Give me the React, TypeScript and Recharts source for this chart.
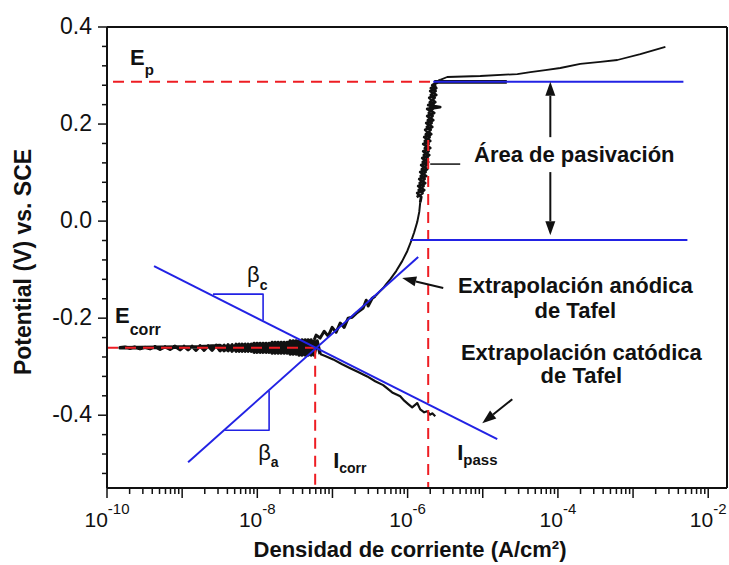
import React from 'react';
import { ComposedChart, Line, XAxis, YAxis, ReferenceLine, ReferenceDot, Label } from 'recharts';

const FONT = 'Arial, "Liberation Sans", Helvetica, sans-serif';
const BLUE = '#2222e4';
const RED = '#ee1d23';
const INK = '#111111';

// axis limits: current density (A/cm2, log axis) and potential (V vs SCE)
const X_MIN = 1e-10;
const X_MAX = Math.pow(10, -1.75);
const Y_MIN = -0.55;
const Y_MAX = 0.4;

const decades = [-10, -9, -8, -7, -6, -5, -4, -3, -2];
const minorSteps = [2, 3, 4, 5, 6, 7, 8, 9];
const labelledDecades = [-10, -8, -6, -4, -2];
const yTicks = [
  0.4, 0.36, 0.32, 0.28, 0.24, 0.2, 0.16, 0.12, 0.08, 0.04, 0, -0.04, -0.08, -0.12,
  -0.16, -0.2, -0.24, -0.28, -0.32, -0.36, -0.4, -0.44, -0.48, -0.52,
];
const yLabels = [0.4, 0.2, 0, -0.2, -0.4];

// measured curve, pairs of [log10(i), E]
const cathodicBranch: [number, number][] = [
  [-5.632, -0.402], [-5.672, -0.396], [-5.699, -0.399], [-5.739, -0.392],
  [-5.779, -0.394], [-5.832, -0.388], [-5.872, -0.375], [-5.939, -0.384],
  [-5.992, -0.377], [-6.045, -0.370], [-6.098, -0.361], [-6.205, -0.353],
  [-6.325, -0.338], [-6.431, -0.330], [-6.538, -0.320], [-6.658, -0.311],
  [-6.764, -0.303], [-6.871, -0.295], [-6.991, -0.285], [-7.097, -0.278],
  [-7.164, -0.274],
];

// scan through E_corr: leftwards, then back to the anodic side
const corrosionNoise: [number, number][] = [
  [-7.164, -0.274], [-7.204, -0.247], [-7.244, -0.276], [-7.284, -0.245],
  [-7.323, -0.276], [-7.363, -0.245], [-7.403, -0.276], [-7.443, -0.247],
  [-7.483, -0.274], [-7.523, -0.247], [-7.563, -0.274], [-7.603, -0.250],
  [-7.643, -0.272], [-7.683, -0.250], [-7.723, -0.272], [-7.763, -0.250],
  [-7.803, -0.272], [-7.843, -0.252], [-7.883, -0.270], [-7.923, -0.252],
  [-7.963, -0.270], [-8.003, -0.252], [-8.043, -0.270], [-8.082, -0.254],
  [-8.122, -0.268], [-8.162, -0.254], [-8.202, -0.268], [-8.242, -0.254],
  [-8.282, -0.268], [-8.336, -0.255], [-8.389, -0.267], [-8.442, -0.256],
  [-8.495, -0.267], [-8.549, -0.256], [-8.602, -0.266], [-8.655, -0.257],
  [-8.708, -0.266], [-8.762, -0.257], [-8.815, -0.266], [-8.868, -0.258],
  [-8.921, -0.265], [-8.975, -0.258], [-9.028, -0.265], [-9.095, -0.258],
  [-9.161, -0.264], [-9.228, -0.259], [-9.294, -0.264], [-9.361, -0.259],
  [-9.427, -0.263], [-9.494, -0.260], [-9.561, -0.263], [-9.627, -0.260],
  [-9.694, -0.262], [-9.760, -0.260], [-9.827, -0.261],
  [-8.762, -0.259], [-8.495, -0.256], [-8.442, -0.267], [-8.389, -0.255],
  [-8.336, -0.268], [-8.282, -0.254], [-8.242, -0.268], [-8.202, -0.254],
  [-8.162, -0.268], [-8.122, -0.254], [-8.082, -0.268], [-8.043, -0.252],
  [-8.003, -0.270], [-7.963, -0.252], [-7.923, -0.270], [-7.883, -0.252],
  [-7.843, -0.270], [-7.803, -0.250], [-7.763, -0.272], [-7.723, -0.250],
  [-7.683, -0.272], [-7.643, -0.250], [-7.603, -0.272], [-7.563, -0.247],
  [-7.523, -0.274], [-7.483, -0.247], [-7.443, -0.276], [-7.403, -0.245],
  [-7.363, -0.276], [-7.323, -0.245], [-7.284, -0.276], [-7.244, -0.245],
];

const anodicNoise: [number, number][] = [
  [-7.244, -0.245], [-7.217, -0.235], [-7.164, -0.241], [-7.110, -0.227],
  [-7.057, -0.237], [-7.004, -0.219], [-6.951, -0.229], [-6.897, -0.210],
  [-6.844, -0.219], [-6.791, -0.200], [-6.738, -0.198], [-6.684, -0.190],
  [-6.631, -0.184], [-6.591, -0.179], [-6.551, -0.163], [-6.525, -0.175],
  [-6.471, -0.159], [-6.431, -0.155],
];

const anodicBranch: [number, number][] = [
  [-6.431, -0.155], [-6.378, -0.146], [-6.325, -0.138], [-6.285, -0.130],
  [-6.232, -0.120], [-6.152, -0.103], [-6.072, -0.0825], [-6.005, -0.062],
  [-5.952, -0.041], [-5.912, -0.023], [-5.872, -0.002], [-5.845, 0.019],
  [-5.832, 0.039],
];

const passivationNoise: [number, number][] = [
  [-5.832, 0.039], [-5.819, 0.0495], [-5.872, 0.0577], [-5.779, 0.0639],
  [-5.859, 0.0722], [-5.766, 0.0783], [-5.845, 0.0866], [-5.752, 0.0928],
  [-5.832, 0.101], [-5.739, 0.107], [-5.819, 0.1155], [-5.726, 0.1216],
  [-5.805, 0.130], [-5.712, 0.136], [-5.792, 0.144], [-5.699, 0.1505],
  [-5.792, 0.1588], [-5.699, 0.165], [-5.779, 0.173], [-5.686, 0.179],
  [-5.766, 0.188], [-5.672, 0.194], [-5.752, 0.202], [-5.659, 0.208],
  [-5.739, 0.2165], [-5.646, 0.223], [-5.739, 0.231], [-5.566, 0.235],
  [-5.726, 0.239], [-5.632, 0.245], [-5.712, 0.254], [-5.619, 0.260],
  [-5.699, 0.268], [-5.619, 0.274], [-5.672, 0.280], [-5.619, 0.2845],
  [-5.566, 0.291],
];

const passivationNoiseBack: [number, number][] = [
  [-5.619, 0.280], [-5.692, 0.274], [-5.626, 0.268], [-5.692, 0.260],
  [-5.639, 0.254], [-5.706, 0.245], [-5.653, 0.239], [-5.700, 0.235],
  [-5.666, 0.231], [-5.719, 0.223], [-5.666, 0.2165], [-5.732, 0.208],
  [-5.679, 0.202], [-5.745, 0.194], [-5.692, 0.188], [-5.759, 0.179],
  [-5.706, 0.173], [-5.772, 0.165], [-5.719, 0.1588], [-5.772, 0.1505],
  [-5.719, 0.144], [-5.785, 0.136], [-5.732, 0.130], [-5.799, 0.1216],
  [-5.746, 0.1155], [-5.812, 0.107], [-5.759, 0.101], [-5.826, 0.0928],
  [-5.772, 0.0866], [-5.840, 0.0783], [-5.786, 0.0722], [-5.853, 0.0639],
  [-5.800, 0.0577], [-5.879, 0.0495],
];

const passiveBranch: [number, number][] = [
  [-5.566, 0.291], [-5.473, 0.297], [-5.033, 0.299], [-4.540, 0.303],
  [-4.367, 0.307], [-4.168, 0.311], [-3.968, 0.3155], [-3.702, 0.324],
  [-3.435, 0.328], [-3.209, 0.332], [-2.903, 0.344], [-2.570, 0.359],
];

const passiveOverlap: [number, number][] = [[-5.646, 0.287], [-4.68, 0.287]];

// construction lines
const anodicTafel: [number, number][] = [[-8.921, -0.497], [-5.859, -0.0742]];
const cathodicTafel: [number, number][] = [[-9.374, -0.0928], [-4.807, -0.4495]];
const passiveTop: [number, number][] = [[-5.659, 0.287], [-2.33, 0.287]];
const passiveBottom: [number, number][] = [[-5.965, -0.039], [-2.277, -0.039]];
const betaC: [number, number][] = [[-8.589, -0.1505], [-7.923, -0.1505], [-7.923, -0.205]];
const betaA: [number, number][] = [[-7.843, -0.35], [-7.843, -0.431], [-8.429, -0.431]];
const epDash: [number, number][] = [[-9.92, 0.287], [-5.672, 0.287]];
const ecorrDash: [number, number][] = [[-10, -0.261], [-7.23, -0.261]];
const icorrDash: [number, number][] = [[-7.23, -0.261], [-7.23, -0.55]];
const ipassDash: [number, number][] = [[-5.726, 0.167], [-5.726, -0.55]];
const leader: [number, number][] = [[-5.699, 0.1175], [-5.3, 0.1175]];

// arrows: [tail, tip]
const arrows: { from: [number, number]; to: [number, number] }[] = [
  { from: [-4.101, 0.173], to: [-4.101, 0.287] },
  { from: [-4.101, 0.101], to: [-4.101, -0.029] },
  { from: [-5.526, -0.138], to: [-6.072, -0.1175] },
  { from: [-4.607, -0.367], to: [-5.007, -0.4165] },
];

const symbols = [
  { at: [-9.694, 0.3216], main: 'E', sub: 'p', dy: 10, size: 15, bold: true },
  { at: [-9.893, -0.2103], main: 'E', sub: 'corr', dy: 12, size: 16, bold: true },
  { at: [-8.136, -0.1258], main: 'β', sub: 'c', dy: 8, size: 14, bold: false },
  { at: [-7.989, -0.493], main: 'β', sub: 'a', dy: 7, size: 14, bold: false },
  { at: [-6.991, -0.5093], main: 'I', sub: 'corr', dy: 5, size: 14, bold: true },
  { at: [-5.34, -0.4928], main: 'I', sub: 'pass', dy: 5, size: 15, bold: true },
];

const notes = [
  { at: [-3.782, 0.122], text: 'Área de pasivación' },
  { at: [-3.768, -0.1485], text: 'Extrapolación anódica' },
  { at: [-3.768, -0.2], text: 'de Tafel' },
  { at: [-3.688, -0.2866], text: 'Extrapolación catódica' },
  { at: [-3.688, -0.334], text: 'de Tafel' },
];

const xTicks = decades
  .flatMap((d) => [Math.pow(10, d), ...minorSteps.map((k) => k * Math.pow(10, d))])
  .filter((v) => v <= X_MAX);

const toPoints = (pairs: [number, number][]) => pairs.map(([l, e]) => ({ i: Math.pow(10, l), e }));

const XTick = (props: any) => {
  const { x, y, payload } = props;
  const p = Math.log10(payload.value);
  const dec = Math.round(p);
  const major = Math.abs(p - dec) < 1e-6;
  return (
    <g>
      <line x1={x} y1={y} x2={x} y2={y + (major ? 10 : 6)} stroke={INK} strokeWidth={1.5} />
      {major && labelledDecades.includes(dec) && (
        <text x={x} y={y + 39} textAnchor="middle" fontFamily={FONT} fontSize={21} fill={INK}>
          <tspan>10</tspan>
          <tspan dy={-13} fontSize={15}>{dec}</tspan>
        </text>
      )}
    </g>
  );
};

const YTick = (props: any) => {
  const { x, y, payload } = props;
  const v = payload.value;
  const major = yLabels.some((l) => Math.abs(l - v) < 1e-6);
  return (
    <g>
      <line x1={x} y1={y} x2={x - (major ? 9 : 5)} y2={y} stroke={INK} strokeWidth={1.5} />
      {major && (
        <text x={x - 15} y={y + 7} textAnchor="end" fontFamily={FONT} fontSize={23} fill={INK}>
          {v.toFixed(1)}
        </text>
      )}
    </g>
  );
};

const arrowShape = (p: any) => {
  const { x1, y1, x2, y2 } = p;
  const ang = Math.atan2(y2 - y1, x2 - x1);
  const head = 14;
  const bx = x2 - head * Math.cos(ang);
  const by = y2 - head * Math.sin(ang);
  const nx = -Math.sin(ang) * 5;
  const ny = Math.cos(ang) * 5;
  return (
    <g>
      <line x1={x1} y1={y1} x2={bx} y2={by} stroke={INK} strokeWidth={2} />
      <polygon points={`${x2},${y2} ${bx + nx},${by + ny} ${bx - nx},${by - ny}`} fill={INK} />
    </g>
  );
};

const series = (pairs: [number, number][], key: string, stroke: string, width: number, dash?: string) => (
  <Line
    key={key}
    data={toPoints(pairs)}
    dataKey="e"
    type="linear"
    stroke={stroke}
    strokeWidth={width}
    strokeDasharray={dash}
    strokeLinejoin="round"
    dot={false}
    activeDot={false}
    isAnimationActive={false}
  />
);

export default function App() {
  return (
    <div style={{ position: 'absolute', left: 0, top: 0, width: 729, height: 565, background: '#fff' }}>
      <ComposedChart width={729} height={565} margin={{ top: 27, right: 2, bottom: 0, left: 0 }}>
        <XAxis
          dataKey="i"
          type="number"
          scale="log"
          domain={[X_MIN, X_MAX]}
          ticks={xTicks}
          interval={0}
          allowDataOverflow
          height={77}
          tickSize={0}
          tickMargin={0}
          tickLine={false}
          axisLine={{ stroke: INK, strokeWidth: 2 }}
          tick={<XTick />}
        >
          <Label
            content={() => (
              <text x={410} y={557} textAnchor="middle" fontFamily={FONT} fontWeight="bold" fontSize={22} fill={INK}>
                Densidad de corriente (A/cm²)
              </text>
            )}
          />
        </XAxis>
        <YAxis
          dataKey="e"
          type="number"
          domain={[Y_MIN, Y_MAX]}
          ticks={yTicks}
          interval={0}
          allowDataOverflow
          width={107}
          tickSize={0}
          tickMargin={0}
          tickLine={false}
          axisLine={{ stroke: INK, strokeWidth: 2 }}
          tick={<YTick />}
        >
          <Label
            content={() => (
              <text
                transform="rotate(-90)"
                x={-262}
                y={31}
                textAnchor="middle"
                fontFamily={FONT}
                fontWeight="bold"
                fontSize={23}
                fill={INK}
              >
                Potential (V) vs. SCE
              </text>
            )}
          />
        </YAxis>

        <ReferenceLine y={Y_MAX} stroke={INK} strokeWidth={2} ifOverflow="visible" />
        <ReferenceLine x={X_MAX} stroke={INK} strokeWidth={2} ifOverflow="visible" />

        {series(cathodicBranch, 'cath', INK, 2.2)}
        {series(corrosionNoise, 'noise', INK, 3.4)}
        {series(anodicNoise, 'anoise', INK, 3)}
        {series(anodicBranch, 'anod', INK, 2)}
        {series(passivationNoise, 'pnoise', INK, 2.8)}
        {series(passivationNoiseBack, 'pnoise2', INK, 2.6)}
        {series(passiveBranch, 'pass', INK, 1.8)}
        {series(passiveOverlap, 'povl', INK, 3.6)}
        {series(leader, 'leader', INK, 1.5)}

        {series(epDash, 'ep', RED, 2, '11 7')}
        {series(ecorrDash, 'ecorr', RED, 2, '11 7')}
        {series(icorrDash, 'icorr', RED, 2, '11 7')}
        {series(ipassDash, 'ipass', RED, 2, '11 7')}

        {series(anodicTafel, 'atafel', BLUE, 2)}
        {series(cathodicTafel, 'ctafel', BLUE, 2)}
        {series(passiveTop, 'ptop', BLUE, 2)}
        {series(passiveBottom, 'pbot', BLUE, 2)}
        {series(betaC, 'bc', BLUE, 1.6)}
        {series(betaA, 'ba', BLUE, 1.6)}

        {arrows.map((a, k) => (
          <ReferenceLine
            key={`arrow-${k}`}
            segment={[
              { x: Math.pow(10, a.from[0]), y: a.from[1] },
              { x: Math.pow(10, a.to[0]), y: a.to[1] },
            ]}
            ifOverflow="visible"
            shape={arrowShape}
          />
        ))}

        {symbols.map((s, k) => (
          <ReferenceDot
            key={`sym-${k}`}
            x={Math.pow(10, s.at[0])}
            y={s.at[1]}
            r={0}
            ifOverflow="visible"
            shape={(p: any) => (
              <text x={p.cx} y={p.cy} fontFamily={FONT} fill={INK} fontSize={22} fontWeight={s.bold ? 'bold' : 'normal'}>
                <tspan>{s.main}</tspan>
                <tspan dy={s.dy} fontSize={s.size} fontWeight="bold">{s.sub}</tspan>
              </text>
            )}
          />
        ))}

        {notes.map((n, k) => (
          <ReferenceDot
            key={`note-${k}`}
            x={Math.pow(10, n.at[0])}
            y={n.at[1]}
            r={0}
            ifOverflow="visible"
            shape={(p: any) => (
              <text x={p.cx} y={p.cy} textAnchor="middle" fontFamily={FONT} fill={INK} fontSize={22} fontWeight="bold">
                {n.text}
              </text>
            )}
          />
        ))}
      </ComposedChart>
    </div>
  );
}
